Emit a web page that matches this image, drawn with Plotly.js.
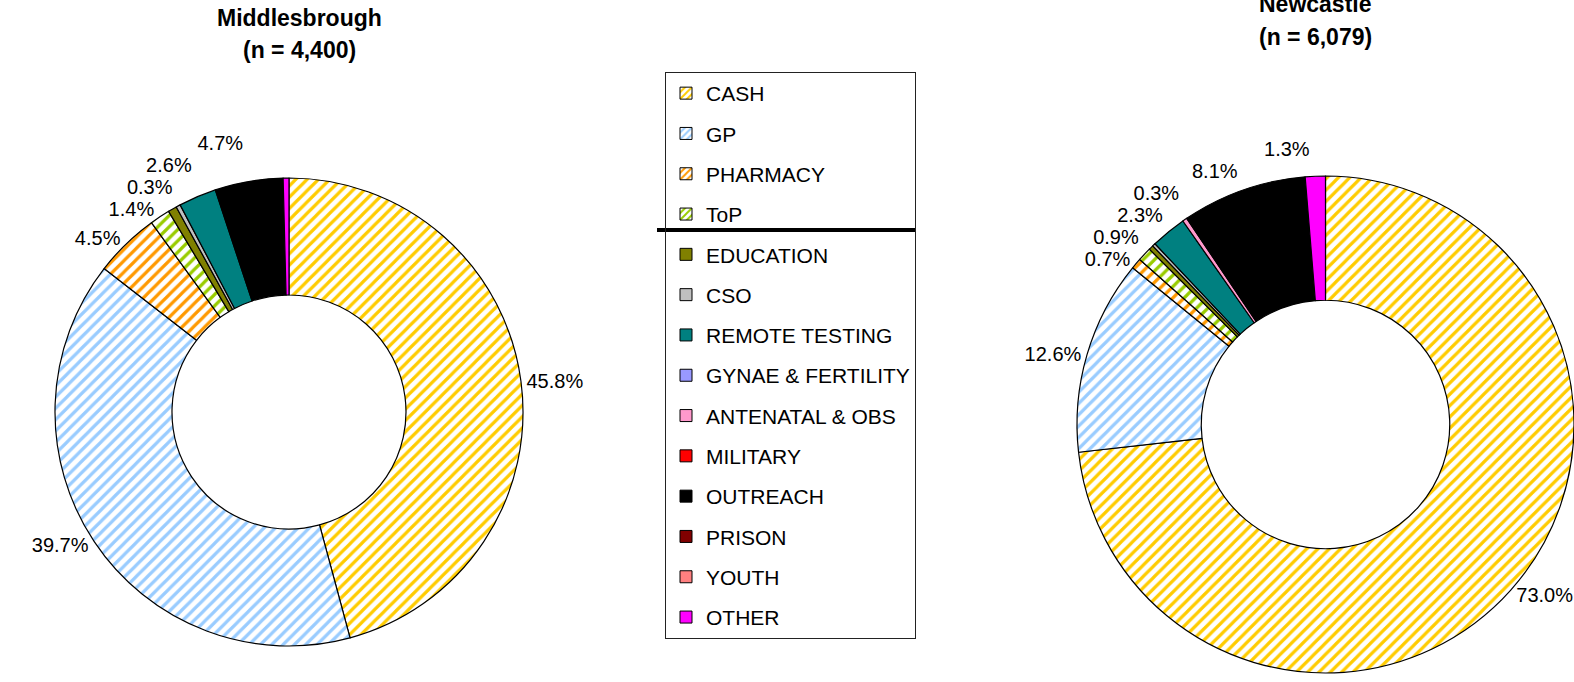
<!DOCTYPE html>
<html>
<head>
<meta charset="utf-8">
<script src="https://cdn.plot.ly/plotly-3.0.1.min.js"></script>
<style>
html,body{margin:0;padding:0;background:#ffffff;}
#chart{width:1574px;height:682px;}
#chart path.textline{display:none;}
</style>
</head>
<body>
<div id="chart"></div>
<script>
// ---- data ----
const categories = ['CASH','GP','PHARMACY','ToP','EDUCATION','CSO','REMOTE TESTING','GYNAE & FERTILITY','ANTENATAL & OBS','MILITARY','OUTREACH','PRISON','YOUTH','OTHER'];
const categoryColors = ['#FFCC00','#99CCFF','#FF9900','#99CC00','#808000','#C0C0C0','#008080','#9999FF','#FF99CC','#FF0000','#000000','#800000','#FF8080','#FF00FF'];
const categoryHatched = [true,true,true,true,false,false,false,false,false,false,false,false,false,false];

const middlesbroughValues   = [45.8, 39.7, 4.5, 1.4, 0.6, 0.3, 2.6, 0, 0, 0, 4.7, 0, 0, 0.4];
const middlesbroughLabelled = [1, 1, 1, 1, 0, 1, 1, 0, 0, 0, 1, 0, 0, 0];
const newcastleValues       = [73.0, 12.6, 0.7, 0.9, 0.3, 0.2, 2.3, 0, 0.3, 0, 8.1, 0, 0, 1.3];
const newcastleLabelled     = [1, 1, 1, 1, 0, 0, 1, 0, 1, 0, 1, 0, 0, 1];

const middlesbroughTitle = ['Middlesbrough', '(n = 4,400)'];
const newcastleTitle     = ['Newcastle', '(n = 6,079)'];

// ---- build ----
const FONT = 'Liberation Sans, Arial, Helvetica, sans-serif';
const W = 1574, H = 682;

function pieTrace(values, labelled, domain) {
  const idx = values.map((v, i) => i).filter(i => values[i] > 0);
  return {
    type: 'pie',
    labels: idx.map(i => categories[i]),
    values: idx.map(i => values[i]),
    text: idx.map(i => labelled[i] ? values[i].toFixed(1) + '%' : ''),
    textinfo: 'text',
    textposition: 'outside',
    outsidetextfont: {family: FONT, size: 20, color: '#000000'},
    sort: false,
    direction: 'clockwise',
    rotation: 0,
    hole: 0.5,
    showlegend: false,
    hoverinfo: 'label+value',
    domain: domain,
    marker: {
      colors: idx.map(i => categoryColors[i]),
      line: {color: '#000000', width: 1.2},
      pattern: {
        shape: idx.map(i => categoryHatched[i] ? '/' : ''),
        fgcolor: idx.map(i => categoryColors[i]),
        bgcolor: idx.map(i => categoryHatched[i] ? '#ffffff' : categoryColors[i]),
        size: 8,
        solidity: 0.4
      }
    }
  };
}

const traces = [
  pieTrace(middlesbroughValues, middlesbroughLabelled,
    {x: [55 / W, 523 / W], y: [1 - 646 / H, 1 - 178 / H]}),
  pieTrace(newcastleValues, newcastleLabelled,
    {x: [1077 / W, 1], y: [1 - 673 / H, 1 - 176 / H]})
];

// legend entries (one per category)
categories.forEach((c, i) => {
  traces.push({
    type: 'bar',
    x: [null], y: [null],
    name: c,
    legendgroup: 'g' + i,
    hoverinfo: 'skip',
    marker: {
      color: categoryColors[i],
      line: {color: '#000000', width: 1},
      pattern: categoryHatched[i]
        ? {shape: '/', fgcolor: categoryColors[i], bgcolor: '#ffffff', size: 6, solidity: 0.4}
        : {shape: ''}
    }
  });
});

function titleAnn(text, xpx, ypx) {
  return {
    text: '<b>' + text + '</b>', xref: 'paper', yref: 'paper',
    x: xpx / W, y: 1 - ypx / H, xanchor: 'center', yanchor: 'middle',
    showarrow: false, font: {family: FONT, size: 23, color: '#000000'}
  };
}

const layout = {
  width: W, height: H,
  margin: {l: 0, r: 0, t: 0, b: 0},
  paper_bgcolor: '#ffffff', plot_bgcolor: '#ffffff',
  xaxis: {visible: false, domain: [0.45, 0.46]},
  yaxis: {visible: false, domain: [0.45, 0.46]},
  showlegend: true,
  legend: {
    x: 665 / W, xanchor: 'left', y: 1 - 72 / H, yanchor: 'top',
    bgcolor: 'rgba(0,0,0,0)', bordercolor: '#222222', borderwidth: 1,
    font: {family: FONT, size: 21, color: '#000000'},
    tracegroupgap: 10, itemwidth: 30, traceorder: 'grouped'
  },
  annotations: [
    titleAnn(middlesbroughTitle[0], 299, 18),
    titleAnn(middlesbroughTitle[1], 299, 50),
    titleAnn(newcastleTitle[0], 1315, 4),
    titleAnn(newcastleTitle[1], 1315, 37)
  ],
  shapes: [
    {type: 'line', xref: 'paper', yref: 'paper', x0: 657 / W, x1: 915 / W,
     y0: 1 - 230 / H, y1: 1 - 230 / H, line: {color: '#000000', width: 4}}
  ]
};

Plotly.newPlot('chart', traces, layout, {displayModeBar: false, staticPlot: true});
</script>
</body>
</html>
